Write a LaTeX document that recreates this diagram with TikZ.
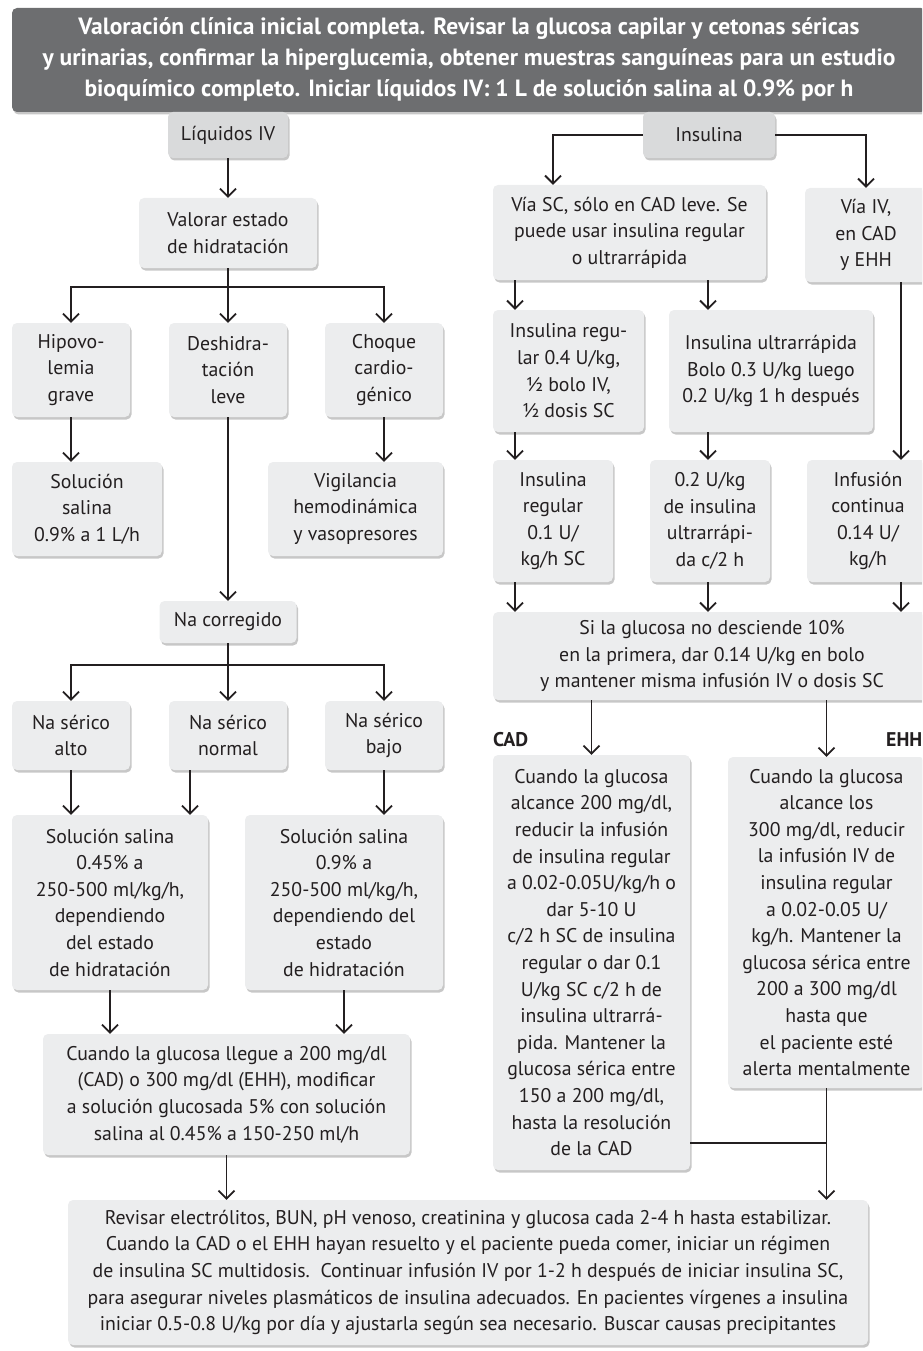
\documentclass[tikz,border=0pt]{standalone}
\usepackage{fontspec}
\setmainfont{PT Sans}
\usetikzlibrary{arrows.meta,shadows}
\definecolor{ink}{HTML}{231F20}
\definecolor{boxgray}{HTML}{ECEDEE}
\definecolor{tabgray}{HTML}{D9DADB}
\definecolor{bannergray}{HTML}{6D6E70}
\newcommand{\bodyfont}{\fontsize{19.8}{26.6}\selectfont}
\newcommand{\bannerfont}{\fontsize{23.5}{31}\selectfont\bfseries}
\tikzset{
  box/.style={fill=boxgray, rounded corners=5pt, align=center, inner sep=0pt,
    font=\bodyfont, text=ink,
    drop shadow={shadow xshift=1.5pt, shadow yshift=-2.5pt, fill=black, opacity=0.22}},
  tab/.style={box, fill=tabgray},
  banner/.style={box, fill=bannergray, text=white, font=\bannerfont},
  wh/.style 2 args={minimum width=#1pt, minimum height=#2pt},
  lbl/.style={font=\bodyfont\bfseries, text=ink, inner sep=0pt},
  conn/.style={draw=ink, line width=1.8pt},
  arr/.style={conn, -{Straight Barb[length=8pt,width=16pt]}},
}
\begin{document}
\begin{tikzpicture}[x=1pt,y=-1pt]
\useasboundingbox (0,0) rectangle (922,1351);
\clip (0,0) rectangle (922,1351);

% banner and tabs
\node[banner, wh={914}{104}, text depth=6pt] (top) at (469,60) {Valoración clínica inicial completa. Revisar la glucosa capilar y cetonas séricas\\y urinarias, confirmar la hiperglucemia, obtener muestras sanguíneas para un estudio\\bioquímico completo. Iniciar líquidos IV: 1 L de solución salina al 0.9\% por h};
\node[tab, wh={120}{46}] (liq) at (228,135) {Líquidos IV};
\node[tab, wh={132}{46}] (ins) at (709,135) {Insulina};

% left column
\node[box, wh={178}{70}] (val) at (228,233) {Valorar estado\\de hidratación};
\node[box, wh={118}{94}] (hipo) at (71,370) {Hipovo-\\lemia\\grave};
\node[box, wh={118}{94}] (desh) at (228,370) {Deshidra-\\tación\\leve};
\node[box, wh={118}{94}] (choq) at (384,370) {Choque\\cardio-\\génico};
\node[box, wh={150}{94}] (ss1) at (87,509) {Solución\\salina\\0.9\% a 1 L/h};
\node[box, wh={175}{94}] (vig) at (355.5,509) {Vigilancia\\hemodinámica\\y vasopresores};
\node[box, wh={137}{42}] (nac) at (228,622) {Na corregido};
\node[box, wh={118}{69}] (naa) at (71,735.5) {Na sérico\\alto};
\node[box, wh={118}{69}] (nan) at (228,735.5) {Na sérico\\normal};
\node[box, wh={118}{69}] (nab) at (384,735.5) {Na sérico\\bajo};
\node[box, wh={196}{175}] (s045) at (110,902.5) {Solución salina\\0.45\% a\\250-500 ml/kg/h,\\dependiendo\\del estado\\de hidratación};
\node[box, wh={198}{175}] (s09) at (344,902.5) {Solución salina\\0.9\% a\\250-500 ml/kg/h,\\dependiendo del\\estado\\de hidratación};
\node[box, wh={367}{121}] (cuan) at (226.5,1094.5) {Cuando la glucosa llegue a 200 mg/dl\\(CAD) o 300 mg/dl (EHH), modificar\\a solución glucosada 5\% con solución\\salina al 0.45\% a 150-250 ml/h};
\node[box, wh={800}{145}] (fin) at (468,1272.5) {Revisar electrólitos, BUN, pH venoso, creatinina y glucosa cada 2-4 h hasta estabilizar.\\Cuando la CAD o el EHH hayan resuelto y el paciente pueda comer, iniciar un régimen\\de insulina SC multidosis.\ \ Continuar infusión IV por 1-2 h después de iniciar insulina SC,\\para asegurar niveles plasmáticos de insulina adecuados. En pacientes vírgenes a insulina\\iniciar 0.5-0.8 U/kg por día y ajustarla según sea necesario. Buscar causas precipitantes};

% right column
\node[box, wh={273}{95}] (sc) at (629.5,232.5) {Vía SC, sólo en CAD leve. Se\\puede usar insulina regular\\o ultrarrápida};
\node[box, wh={122}{94}] (iv) at (866,235) {Vía IV,\\en CAD\\y EHH};
\node[box, wh={151}{122}] (r04) at (568.5,371) {Insulina regu-\\lar 0.4 U/kg,\\½ bolo IV,\\½ dosis SC};
\node[box, wh={204}{122}] (ultra) at (771,371) {Insulina ultrarrápida\\Bolo 0.3 U/kg luego\\0.2 U/kg 1 h después};
\node[box, wh={120}{122}] (r01) at (553,521) {Insulina\\regular\\0.1 U/\\kg/h SC};
\node[box, wh={120}{122}] (u02) at (710,521) {0.2 U/kg\\de insulina\\ultrarrápi-\\da c/2 h};
\node[box, wh={122}{122}] (inf) at (868,521) {Infusión\\continua\\0.14 U/\\kg/h};
\node[box, wh={438}{88}] (si) at (712,656) {Si la glucosa no desciende 10\%\\en la primera, dar 0.14 U/kg en bolo\\y mantener misma infusión IV o dosis SC};
\node[lbl, anchor=west] (cadl) at (493,740) {CAD};
\node[lbl, anchor=west] (ehhl) at (886,740) {EHH};
\node[box, wh={197}{415}] (cad) at (591.5,962.5) {Cuando la glucosa\\alcance 200 mg/dl,\\reducir la infusión\\de insulina regular\\a 0.02-0.05U/kg/h o\\dar 5-10 U\\c/2 h SC de insulina\\regular o dar 0.1\\U/kg SC c/2 h de\\insulina ultrarrá-\\pida. Mantener la\\glucosa sérica entre\\150 a 200 mg/dl,\\hasta la resolución\\de la CAD};
\node[box, wh={197}{331}] (ehh) at (826.5,922.5) {Cuando la glucosa\\alcance los\\300 mg/dl, reducir\\la infusión IV de\\insulina regular\\a 0.02-0.05 U/\\kg/h. Mantener la\\glucosa sérica entre\\200 a 300 mg/dl\\hasta que\\el paciente esté\\alerta mentalmente};

% junction coordinates
\coordinate (vj) at (228,287);
\coordinate (nj) at (228,665);
\coordinate (mj) at (826.5,1143);

% left connectors
\draw[arr] (liq.south) -- (val.north);
\draw[conn] (val.south) -- (vj);
\draw[arr] (vj) -| (hipo.north);
\draw[arr] (vj) -| (choq.north);
\draw[arr] (vj) -- (desh.north);
\draw[arr] (hipo.south) -- (hipo.south |- ss1.north);
\draw[arr] (choq.south) -- (choq.south |- vig.north);
\draw[arr] (desh.south) -- (desh.south |- nac.north);
\draw[conn] (nac.south) -- (nj);
\draw[arr] (nj) -| (naa.north);
\draw[arr] (nj) -| (nab.north);
\draw[arr] (nj) -- (nan.north);
\draw[arr] (naa.south) -- (naa.south |- s045.north);
\draw[arr] ([xshift=-38pt]nan.south) -- ([xshift=-38pt]nan.south |- s045.north);
\draw[arr] (nab.south) -- (nab.south |- s09.north);
\draw[arr] (s045.south) -- (s045.south |- cuan.north);
\draw[arr] (s09.south) -- (s09.south |- cuan.north);
\draw[arr] (cuan.south) -- (cuan.south |- fin.north);

% right connectors
\draw[arr] (ins.west) -| ([xshift=-76.5pt]sc.north);
\draw[arr] (ins.east) -| (iv.north);
\draw[arr] ([xshift=-114.5pt]sc.south) -- ([xshift=-114.5pt]sc.south |- r04.north);
\draw[arr] ([xshift=78.5pt]sc.south) -- ([xshift=78.5pt]sc.south |- ultra.north);
\draw[arr] ([xshift=35pt]iv.south) -- ([xshift=35pt]iv.south |- inf.north);
\draw[arr] ([xshift=-53.5pt]r04.south) -- ([xshift=-53.5pt]r04.south |- r01.north);
\draw[arr] ([xshift=-63pt]ultra.south) -- ([xshift=-63pt]ultra.south |- u02.north);
\draw[arr] ([xshift=-38pt]r01.south) -- ([xshift=-38pt]r01.south |- si.north);
\draw[arr] ([xshift=-2pt]u02.south) -- ([xshift=-2pt]u02.south |- si.north);
\draw[arr] ([xshift=33pt]inf.south) -- ([xshift=33pt]inf.south |- si.north);
\draw[arr] (si.south -| cad.north) -- (cad.north);
\draw[arr] (si.south -| ehh.north) -- (ehh.north);
\draw[conn] (cad.east |- mj) -- (mj);
\draw[arr] (ehh.south) -- (ehh.south |- fin.north);
\end{tikzpicture}
\end{document}
